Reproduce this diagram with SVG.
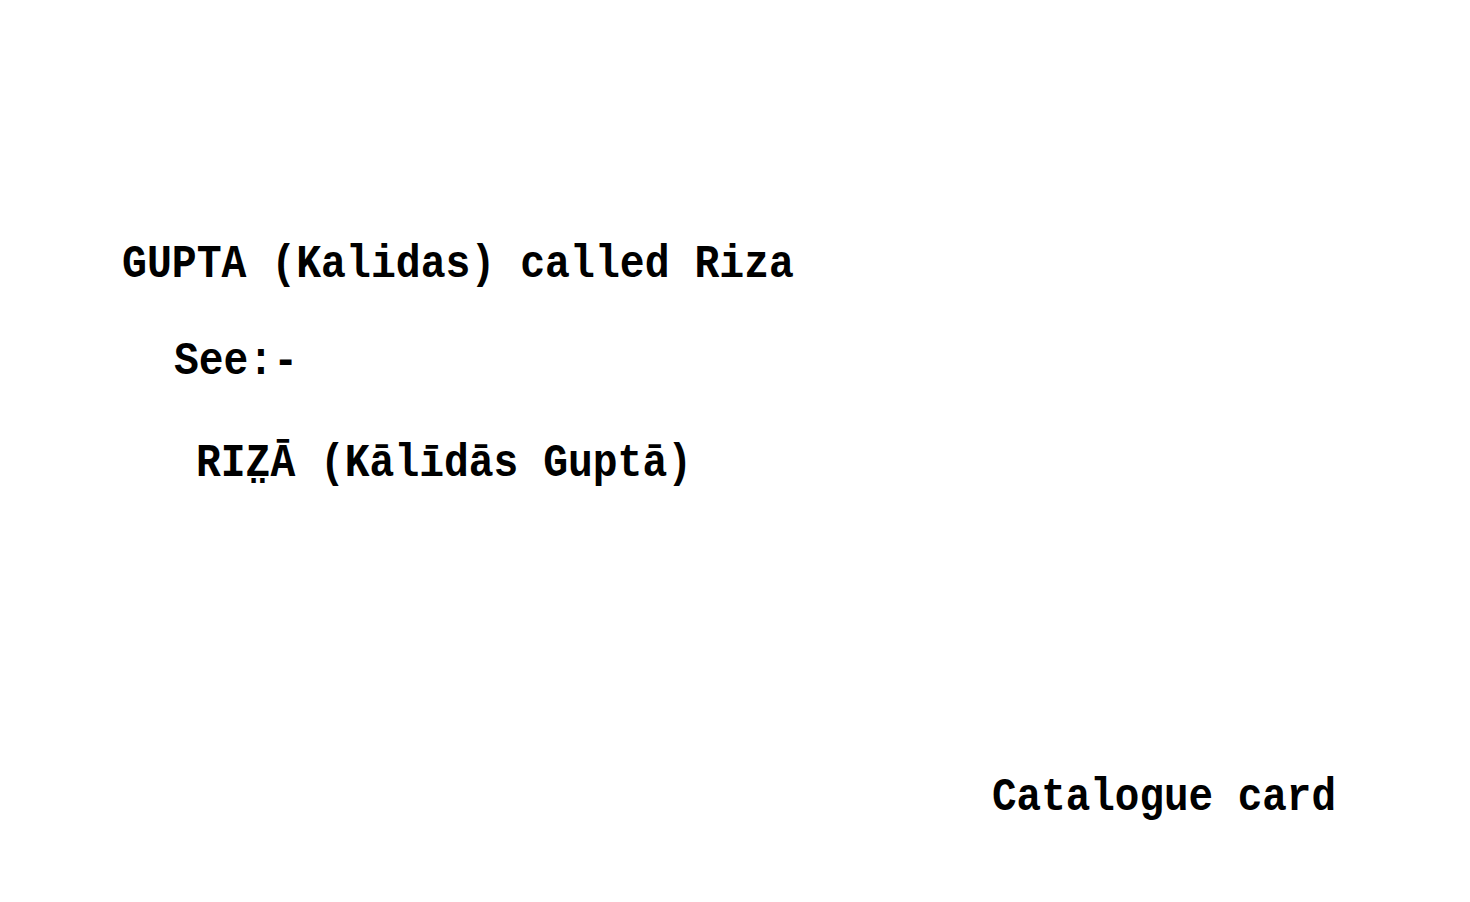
<svg xmlns="http://www.w3.org/2000/svg" width="1470" height="902" viewBox="0 0 1470 902">
<style>
.t{font-family:"Liberation Mono","DejaVu Sans Mono",monospace;font-size:46px;font-weight:bold;fill:#000}
</style>
<rect width="1470" height="902" fill="#fff"/>
<g id="heading"><text class="t" x="122" y="277" textLength="672" lengthAdjust="spacingAndGlyphs">GUPTA (Kalidas) called Riza</text></g>
<g id="see"><text class="t" x="174" y="374" textLength="124" lengthAdjust="spacingAndGlyphs">See:-</text></g>
<g id="ref"><text class="t" x="196" y="476" textLength="496" lengthAdjust="spacingAndGlyphs">RIZ̤Ā (Kālīdās Guptā)</text></g>
<g id="caption"><text class="t" x="992" y="810" textLength="344" lengthAdjust="spacingAndGlyphs">Catalogue card</text></g>
</svg>
